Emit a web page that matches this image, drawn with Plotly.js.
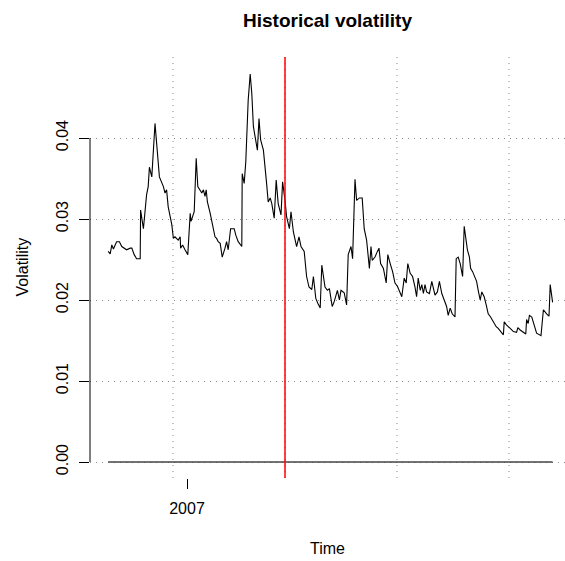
<!DOCTYPE html>
<html>
<head>
<meta charset="utf-8">
<script src="https://cdn.plot.ly/plotly-3.0.1.min.js"></script>
<style>html,body{margin:0;padding:0;background:#fff;}#chart{width:565px;height:561px;}</style>
</head>
<body>
<div id="chart"></div>
<script>
// Time (fractional year) and historical volatility values
const times = [
2006.803,2006.808,2006.812,2006.816,2006.824,2006.831,2006.837,2006.843,2006.849,2006.858,
2006.862,2006.868,2006.874,2006.883,2006.884,2006.891,2006.899,2006.903,2006.906,2006.912,
2006.920,2006.931,2006.941,2006.945,2006.949,2006.953,2006.962,2006.966,2006.970,2006.978,
2006.983,2006.984,2006.989,2006.995,2007.002,2007.008,2007.010,2007.018,2007.023,2007.027,
2007.037,2007.041,2007.045,2007.048,2007.051,2007.058,2007.066,2007.070,2007.074,2007.078,
2007.083,2007.088,2007.095,2007.099,2007.103,2007.109,2007.118,2007.122,2007.128,2007.137,
2007.138,2007.143,2007.147,2007.153,2007.158,2007.162,2007.166,2007.170,2007.176,2007.180,
2007.184,2007.191,2007.195,2007.199,2007.203,2007.208,2007.212,2007.218,2007.223,2007.228,
2007.235,2007.239,2007.245,2007.249,2007.256,2007.260,2007.266,2007.274,2007.280,2007.285,
2007.293,2007.299,2007.305,2007.312,2007.316,2007.322,2007.327,2007.333,2007.337,2007.341,
2007.345,2007.351,2007.356,2007.363,2007.368,2007.376,2007.381,2007.385,2007.393,2007.399,
2007.403,2007.410,2007.414,2007.420,2007.424,2007.431,2007.438,2007.443,2007.449,2007.456,
2007.460,2007.463,2007.470,2007.476,2007.480,2007.484,2007.491,2007.498,2007.502,2007.508,
2007.514,2007.520,2007.526,2007.537,2007.543,2007.548,2007.552,2007.558,2007.564,2007.570,
2007.574,2007.578,2007.583,2007.587,2007.591,2007.595,2007.599,2007.606,2007.612,2007.620,
2007.626,2007.631,2007.637,2007.643,2007.649,2007.653,2007.658,2007.663,2007.670,2007.673,
2007.678,2007.683,2007.689,2007.693,2007.698,2007.701,2007.706,2007.709,2007.714,2007.720,
2007.724,2007.728,2007.733,2007.737,2007.743,2007.748,2007.753,2007.759,2007.766,2007.773,
2007.778,2007.784,2007.791,2007.793,2007.799,2007.808,2007.816,2007.824,2007.827,2007.833,
2007.841,2007.847,2007.849,2007.853,2007.856,2007.862,2007.868,2007.874,2007.885,2007.891,
2007.899,2007.905,2007.908,2007.912,2007.914
];
const volatility = [
0.0260,0.0257,0.0268,0.0263,0.0272,0.0272,0.0266,0.0264,0.0262,0.0264,
0.0264,0.0256,0.0251,0.0251,0.0311,0.0288,0.0330,0.0340,0.0364,0.0352,
0.0418,0.0352,0.0340,0.0332,0.0336,0.0315,0.0293,0.0276,0.0278,0.0274,
0.0278,0.0264,0.0268,0.0262,0.0256,0.0307,0.0297,0.0309,0.0375,0.0340,
0.0332,0.0336,0.0328,0.0336,0.0321,0.0307,0.0286,0.0278,0.0276,0.0272,
0.0270,0.0253,0.0264,0.0272,0.0262,0.0288,0.0288,0.0280,0.0272,0.0266,
0.0356,0.0344,0.0371,0.0447,0.0479,0.0455,0.0414,0.0400,0.0385,0.0424,
0.0398,0.0385,0.0367,0.0344,0.0321,0.0326,0.0319,0.0301,0.0348,0.0319,
0.0305,0.0346,0.0323,0.0303,0.0288,0.0309,0.0284,0.0266,0.0278,0.0266,
0.0260,0.0229,0.0216,0.0213,0.0229,0.0202,0.0196,0.0190,0.0243,0.0231,
0.0216,0.0212,0.0214,0.0192,0.0198,0.0212,0.0200,0.0212,0.0209,0.0194,
0.0256,0.0266,0.0251,0.0349,0.0323,0.0326,0.0326,0.0288,0.0274,0.0239,
0.0266,0.0249,0.0253,0.0260,0.0264,0.0245,0.0239,0.0221,0.0256,0.0245,
0.0235,0.0221,0.0217,0.0204,0.0227,0.0221,0.0245,0.0233,0.0229,0.0216,
0.0204,0.0227,0.0212,0.0219,0.0208,0.0219,0.0210,0.0208,0.0223,0.0206,
0.0210,0.0223,0.0208,0.0200,0.0192,0.0181,0.0190,0.0183,0.0179,0.0251,
0.0253,0.0245,0.0229,0.0291,0.0270,0.0262,0.0253,0.0239,0.0235,0.0229,
0.0223,0.0212,0.0200,0.0210,0.0204,0.0194,0.0183,0.0179,0.0173,0.0167,
0.0165,0.0161,0.0157,0.0173,0.0169,0.0165,0.0161,0.0160,0.0166,0.0163,
0.0160,0.0158,0.0176,0.0171,0.0181,0.0179,0.0169,0.0159,0.0156,0.0188,
0.0183,0.0180,0.0219,0.0206,0.0197
];
const baseline = times.map(() => 0);
const breakTime = 2007.245;
const gridTimes = [2006.965, 2007.245, 2007.525, 2007.805];
const yTickVals = [0, 0.01, 0.02, 0.03, 0.04];
const yTickText = ["0.00", "0.01", "0.02", "0.03", "0.04"];
const xTickVals = [2007];
const xTickText = ["2007"];

const FONT = "Liberation Sans, Arial, Helvetica, sans-serif";
const gridColor = "#8c8c8c";
const gridDash = "1px,5px";

const shapes = gridTimes.map(t => ({
  type: "line", xref: "x", yref: "paper", x0: t, x1: t, y0: 0, y1: 1,
  line: {color: gridColor, width: 1, dash: gridDash}, layer: "below"
}));
shapes.push({type: "line", xref: "x", yref: "paper", x0: breakTime, x1: breakTime, y0: 0, y1: 1,
  line: {color: "#ff0000", width: 1.5}});
shapes.push({type: "line", xref: "paper", yref: "y", x0: 0, x1: 0, y0: yTickVals[0], y1: yTickVals[yTickVals.length-1],
  line: {color: "#000", width: 1}});

const data = [
  {x: times, y: baseline, type: "scatter", mode: "lines", line: {color: "#444444", width: 1.6}, hoverinfo: "skip"},
  {x: times, y: volatility, type: "scatter", mode: "lines", line: {color: "#000000", width: 1.1}}
];

const layout = {
  width: 565, height: 561,
  margin: {l: 90, r: 0, t: 57, b: 83, pad: 0},
  paper_bgcolor: "#fff", plot_bgcolor: "#fff",
  showlegend: false,
  font: {family: FONT, size: 16, color: "#000"},
  title: {text: "Historical volatility", font: {family: FONT, size: 19, weight: "bold", color: "#000"},
    xref: "paper", x: 0.5, xanchor: "center", yref: "container", y: 1 - 20/561, yanchor: "middle"},
  xaxis: {range: [2006.7575, 2007.945], showgrid: false, zeroline: false, showline: false,
    tickvals: xTickVals, ticktext: xTickText, ticks: "outside", ticklen: 10, tickcolor: "#000", tickwidth: 1,
    tickfont: {family: FONT, size: 16, color: "#000"}, ticklabelstandoff: 6},
  yaxis: {range: [-0.001975, 0.05], showgrid: true, gridcolor: gridColor, griddash: gridDash, gridwidth: 1,
    zeroline: false, showline: false,
    tickvals: yTickVals, ticktext: yTickText, ticks: "outside", ticklen: 10, tickcolor: "#000", tickwidth: 1,
    tickangle: -90, tickfont: {family: FONT, size: 16, color: "#000"}, ticklabelstandoff: 5},
  shapes: shapes,
  annotations: [
    {text: "Time", xref: "paper", yref: "paper", x: 0.5, y: 0, xanchor: "center", yanchor: "middle",
      yshift: -70, showarrow: false, font: {family: FONT, size: 16, color: "#000"}},
    {text: "Volatility", xref: "paper", yref: "paper", x: 0, y: 0.5, xanchor: "center", yanchor: "middle",
      xshift: -68, textangle: -90, showarrow: false, font: {family: FONT, size: 16, color: "#000"}}
  ]
};

Plotly.newPlot("chart", data, layout, {staticPlot: true, displayModeBar: false});
</script>
</body>
</html>
